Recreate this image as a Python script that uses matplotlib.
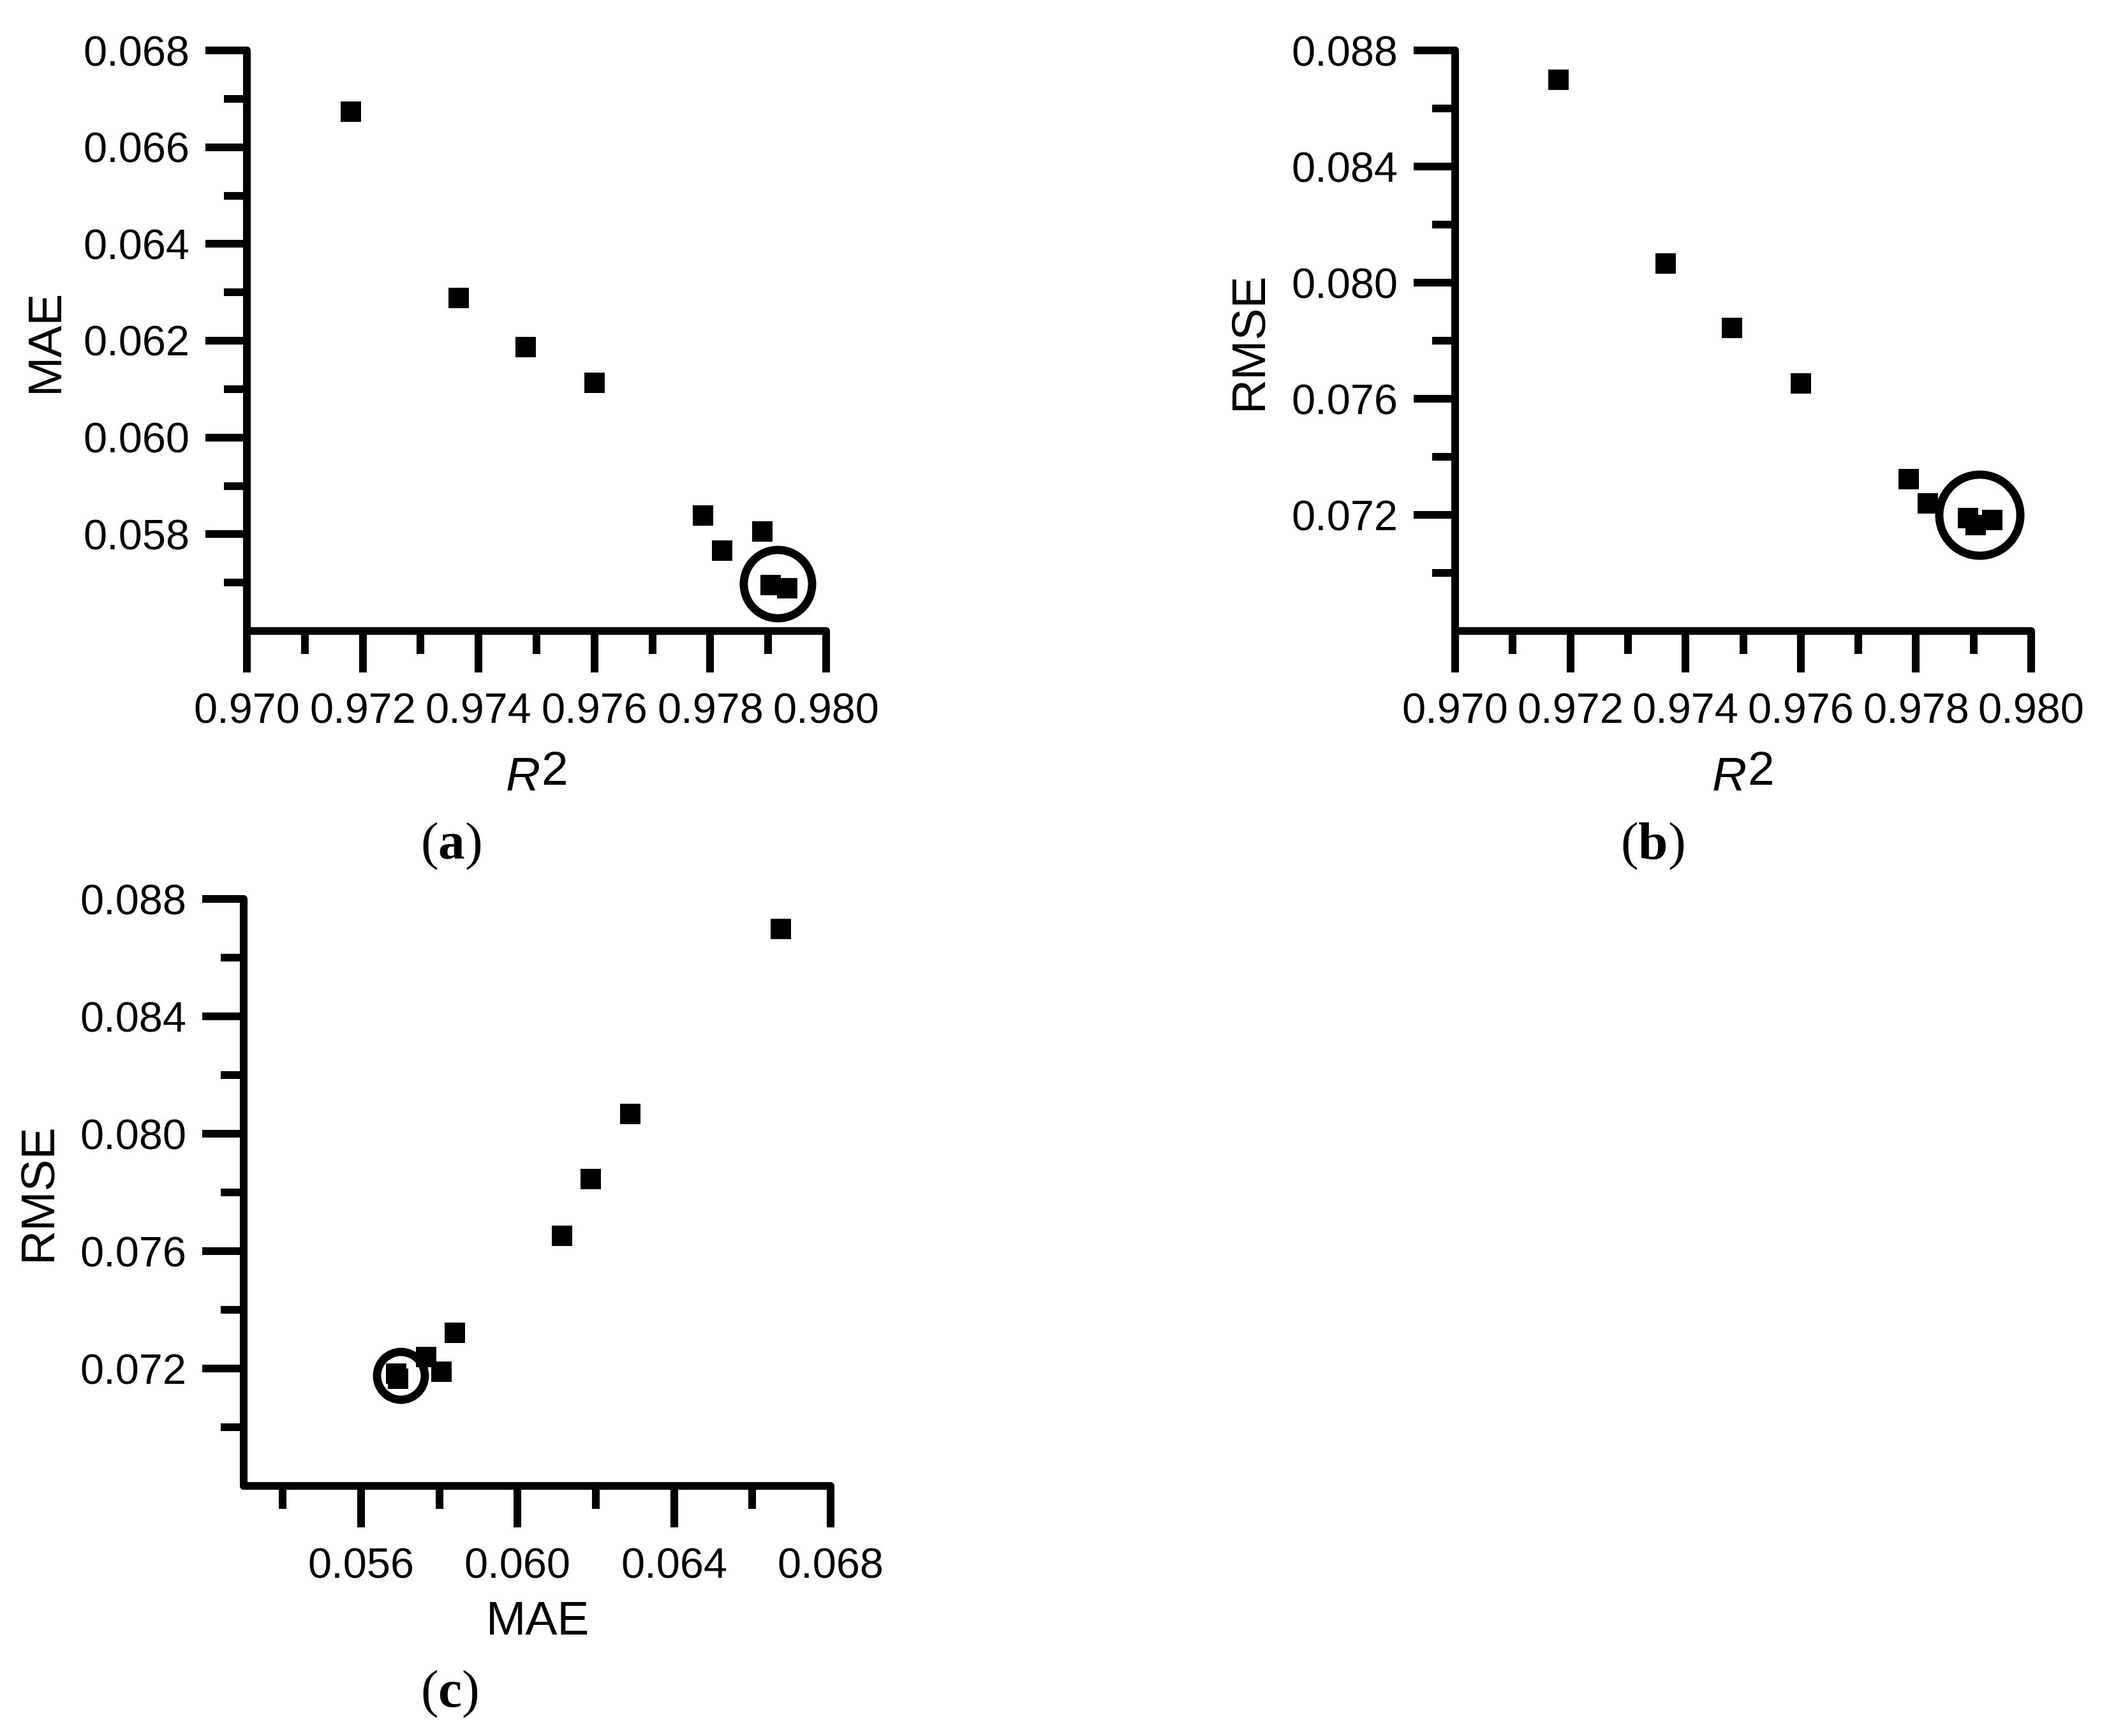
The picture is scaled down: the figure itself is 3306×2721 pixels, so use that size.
import matplotlib
matplotlib.use("Agg")
import matplotlib.pyplot as plt
import numpy as np
from matplotlib.ticker import FormatStrFormatter

plt.rcParams['font.family'] = ['Liberation Sans', 'DejaVu Sans']
plt.rcParams['mathtext.fontset'] = 'custom'
plt.rcParams['mathtext.bf'] = 'Liberation Serif:bold'
plt.rcParams['mathtext.rm'] = 'Liberation Serif'

# values (nine models)
r2 = [0.97179, 0.97366, 0.97481, 0.97600, 0.97787, 0.97821, 0.97890, 0.97904, 0.97933]
mae = [0.06673, 0.06288, 0.06187, 0.06113, 0.05839, 0.05766, 0.05806, 0.05695, 0.05689]
rmse = [0.08698, 0.08067, 0.07845, 0.07653, 0.07322, 0.07239, 0.07190, 0.07165, 0.07183]

# centres of the highlight rings (a), (b), (c)
ring_a = (0.97916, 0.05698)
ring_b = (0.97910, 0.07201)
ring_c = (0.05701, 0.07177)

W, H = 3306, 2721
fig = plt.figure(figsize=(W/300, H/300), dpi=300)

def px(x0, y0, x1, y1):
    # axes rect from pixel corners (top-left origin)
    return [x0/W, 1 - y1/H, (x1 - x0)/W, (y1 - y0)/H]

ax_a = fig.add_axes(px(387, 79, 1295, 989))
ax_b = fig.add_axes(px(2281, 79, 3184, 989))
ax_c = fig.add_axes(px(382, 1409, 1302, 2329))

lw = 2.9
def style(ax, xlim, ylim, xmaj, ymaj, xstart, ystart):
    ax.set_xlim(*xlim)
    ax.set_ylim(*ylim)
    for s in ['top', 'right']:
        ax.spines[s].set_visible(False)
    for s in ['left', 'bottom']:
        ax.spines[s].set_linewidth(lw)
        ax.spines[s].set_capstyle('round')
    xt = np.arange(xstart, xlim[1] + 1e-9, xmaj)
    yt = np.arange(ystart, ylim[1] + 1e-9, ymaj)
    ax.set_xticks(xt)
    ax.set_yticks(yt)
    xm = np.arange(xt[0] - xmaj/2, xlim[1], xmaj)
    ym = np.arange(yt[0] - ymaj/2, ylim[1], ymaj)
    ax.set_xticks(xm[xm > xlim[0]], minor=True)
    ax.set_yticks(ym[ym > ylim[0]], minor=True)
    ax.xaxis.set_major_formatter(FormatStrFormatter('%.3f'))
    ax.yaxis.set_major_formatter(FormatStrFormatter('%.3f'))
    ax.tick_params(which='major', length=15.6, width=lw, labelsize=16, direction='out')
    ax.tick_params(which='minor', length=8.6, width=lw, direction='out')
    ax.tick_params(axis='x', which='major', pad=7.5)
    ax.tick_params(axis='y', which='major', pad=6)

style(ax_a, (0.970, 0.980), (0.056, 0.068), 0.002, 0.002, 0.970, 0.058)
style(ax_b, (0.970, 0.980), (0.068, 0.088), 0.002, 0.004, 0.970, 0.072)
style(ax_c, (0.053, 0.068), (0.068, 0.088), 0.004, 0.004, 0.056, 0.072)

mk = dict(marker='s', ms=7.7, color='black', mew=0, ls='none', clip_on=False, zorder=3)
ring = dict(marker='o', mfc='none', mec='black', mew=3.1, ls='none', clip_on=False, zorder=4)

ax_a.plot(r2, mae, **mk)
ax_a.plot(*ring_a, ms=25.7, **ring)
ax_b.plot(r2, rmse, **mk)
ax_b.plot(*ring_b, ms=30.5, **ring)
ax_c.plot(mae, rmse, **mk)
ax_c.plot(*ring_c, ms=18, **ring)

def ftext(x, y, s, **kw):
    fig.text(x/W, 1 - y/H, s, **kw)

# axis titles
ftext(71, 534, 'MAE', fontsize=18, rotation=90, ha='center', va='center')
ftext(1958, 534, 'RMSE', fontsize=18, rotation=90, ha='center', va='center')
ftext(60, 1868, 'RMSE', fontsize=18, rotation=90, ha='center', va='center')
ftext(843, 2543, 'MAE', fontsize=18, ha='center', va='center')
for cx in (847, 2738):
    ftext(cx, 1239, 'R', fontsize=18, style='italic', ha='right', va='baseline')
    ftext(cx + 1, 1230, '2', fontsize=18, ha='left', va='baseline')

# panel letters
for x, y, letter in [(707, 1326, 'a'), (2590, 1326, 'b'), (704, 2655, 'c')]:
    ftext(x, y, '(' + r'$\mathbf{' + letter + '}$' + ')', fontsize=20,
          family='Liberation Serif', ha='center', va='center')

fig.savefig('out.png', dpi=300, facecolor='white')
